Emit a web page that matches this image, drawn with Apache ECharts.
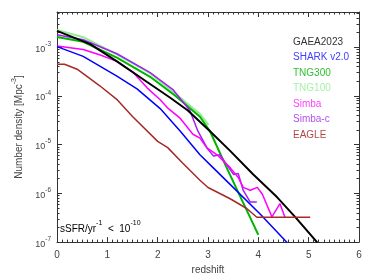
<!DOCTYPE html>
<html><head><meta charset="utf-8">
<script src="https://cdn.jsdelivr.net/npm/echarts@6/dist/echarts.min.js"></script>
<style>html,body{margin:0;padding:0;background:#fff}#c{width:374px;height:280px}</style>
</head><body><div id="c"></div>
<script>
// ---- data ----
const seriesNames = ['GAEA2023', 'SHARK v2.0', 'TNG300', 'TNG100', 'Simba', 'Simba-c', 'EAGLE'];
const seriesColors = ['#000000', '#0000ff', '#00b400', '#90ee90', '#ff00ff', '#a020f0', '#a52a2a'];
const legendColors = ['#333333', '#4040ff', '#33c033', '#a8f0a8', '#ff40ff', '#b050f0', '#b04848'];

const gaeaZ = [0, 0.66, 1.19, 1.79, 2.25, 2.60, 3.04, 3.44, 3.90, 4.37, 4.73, 5.17];
const gaeaN = [2.17e-3, 1.16e-3, 5.14e-4, 1.94e-4, 9.2e-5, 5.02e-5, 1.89e-5, 7.46e-6, 2.44e-6, 8.4e-7, 3.3e-7, 9.86e-8];

const sharkZ = [0, 0.52, 1.19, 1.59, 2.05, 2.45, 2.84, 3.10, 3.50, 4.04, 4.57];
const sharkN = [1.03e-3, 6.49e-4, 2.56e-4, 1.40e-4, 5.51e-5, 1.89e-5, 6.19e-6, 3.38e-6, 1.33e-6, 3.72e-7, 9.86e-8];

const tng300Z = [0, 0.52, 1.19, 1.85, 2.35, 2.84, 3.04, 3.37, 4.00];
const tng300N = [1.62e-3, 1.30e-3, 6.11e-4, 2.48e-4, 1.01e-4, 3.75e-5, 1.89e-5, 3.38e-6, 1.41e-7];

const tng100Z = [0, 0.52, 1.19, 1.85, 2.45, 2.84, 3.01];
const tng100N = [2.28e-3, 1.61e-3, 7.13e-4, 2.94e-4, 9.2e-5, 4.27e-5, 2.54e-5];

const simbaZ = [0, 0.52, 0.86, 1.19, 1.51, 1.79, 2.05, 2.19, 2.45, 2.70, 2.84, 2.98, 3.18, 3.44, 3.60, 3.70, 3.84, 3.98, 4.08, 4.27, 4.43, 4.53];
const simbaN = [1.06e-3, 8.99e-4, 6.95e-4, 5.14e-4, 3.08e-4, 1.47e-4, 8.38e-5, 5.78e-5, 3.46e-5, 1.64e-5, 1.36e-5, 8.57e-6, 6.19e-6, 3.38e-6, 2.12e-6, 1.33e-6, 1.16e-6, 1.33e-6, 9.6e-7, 3.3e-7, 6.14e-7, 3.2e-7];

const simbacZ = [0, 0.52, 1.19, 1.85, 2.31, 2.64, 2.80, 2.98, 3.11, 3.24, 3.37, 3.51, 3.60, 3.70, 3.84, 3.97];
const simbacN = [1.81e-3, 1.43e-3, 7.36e-4, 3.01e-4, 1.33e-4, 5.02e-5, 1.89e-5, 8.57e-6, 5.83e-6, 6.19e-6, 3.89e-6, 2.44e-6, 2.57e-6, 1.15e-6, 6.64e-7, 6.64e-7];

const eagleZ = [0, 0.15, 0.40, 0.85, 1.20, 1.50, 2.00, 2.20, 2.50, 2.84, 3.00, 3.44, 3.77, 3.97, 5.03];
const eagleN = [4.47e-4, 4.47e-4, 3.55e-4, 1.62e-4, 8.3e-5, 3.8e-5, 1.17e-5, 8.7e-6, 4.17e-6, 1.86e-6, 1.32e-6, 7.76e-7, 4.9e-7, 3.24e-7, 3.24e-7];

const xTickLabels = [0, 1, 2, 3, 4, 5, 6];
const yMajorTicks = [1e-7, 1e-6, 1e-5, 1e-4, 1e-3];
const yMin = 1e-7, yMax = 5.3e-3;
const yMinorTicks = [];
for (let e = -7; e <= -3; e++) for (let m = 2; m <= 9; m++) { const v = m * Math.pow(10, e); if (v < yMax) yMinorTicks.push(v); }

// ---- chart ----
const FONT = 'Liberation Sans';
const AX = '#333';
const TXT = '#444';
const zs = [gaeaZ, sharkZ, tng300Z, tng100Z, simbaZ, simbacZ, eagleZ];
const ns = [gaeaN, sharkN, tng300N, tng100N, simbaN, simbacN, eagleN];
const widths = [2, 1.5, 2, 2, 1.5, 1.5, 1.5];
const order = [3, 2, 5, 4, 0, 1, 6];

function richSet(base, supSize, color) {
  return {
    b: { fontSize: base, lineHeight: base + 4, fontFamily: FONT, color: color, verticalAlign: 'bottom' },
    s: { fontSize: supSize, lineHeight: supSize, fontFamily: FONT, color: color, verticalAlign: 'top' }
  };
}

function xAx(pos, labels) {
  return {
    type: 'value', position: pos, min: 0, max: 6, interval: 1,
    axisLine: { show: true, onZero: false, lineStyle: { color: AX, width: 1 } },
    axisTick: { show: true, inside: true, length: 5, lineStyle: { color: AX } },
    minorTick: { show: true, splitNumber: 10, length: 2.5, lineStyle: { color: AX } },
    axisLabel: { show: labels, color: TXT, fontSize: 10, fontFamily: FONT, margin: 8,
                 formatter: v => xTickLabels.indexOf(v) >= 0 ? String(v) : '' },
    splitLine: { show: false }, minorSplitLine: { show: false },
    name: labels ? 'redshift' : '', nameLocation: 'middle', nameGap: 21,
    nameTextStyle: { color: TXT, fontSize: 10, fontFamily: FONT }
  };
}
function yAx(pos, major, labels) {
  const ticks = major ? yMajorTicks : yMinorTicks;
  return {
    type: 'log', logBase: 10, position: pos, min: yMin, max: yMax,
    axisLine: { show: major, onZero: false, lineStyle: { color: AX, width: 1 } },
    axisTick: { show: true, inside: true, length: major ? 5 : 2.5, customValues: ticks, lineStyle: { color: AX } },
    axisLabel: { show: labels, customValues: yMajorTicks, margin: 6,
                 formatter: v => '{b|10}{s|' + Math.round(Math.log10(v)) + '}',
                 rich: richSet(9, 6.5, TXT) },
    splitLine: { show: false },
    name: labels ? '{b|Number density [Mpc}{s|-3}{b|]}' : '', nameLocation: 'middle', nameGap: 32,
    nameTextStyle: { rich: richSet(10, 7, TXT) }
  };
}

const series = order.map(i => ({
  name: seriesNames[i], type: 'line', xAxisIndex: 0, yAxisIndex: 0,
  data: zs[i].map((z, k) => [z, ns[i][k]]),
  showSymbol: false, symbol: 'none', smooth: false, clip: true,
  lineStyle: { color: seriesColors[i], width: widths[i] },
  itemStyle: { color: seriesColors[i] }, z: 2
}));

const chart = echarts.init(document.getElementById('c'), null, { renderer: 'canvas' });
chart.setOption({
  animation: false,
  backgroundColor: '#fff',
  grid: { left: 57, right: 15, top: 12, bottom: 34.5, containLabel: false },
  xAxis: [xAx('bottom', true), xAx('top', false)],
  yAxis: [yAx('left', true, true), yAx('left', false, false), yAx('right', true, false), yAx('right', false, false)],
  legend: {
    orient: 'vertical', left: 283, top: 32, icon: 'none', itemWidth: 0, itemHeight: 10, itemGap: 5.5,
    selectedMode: false, textStyle: { fontSize: 10, fontFamily: FONT },
    data: seriesNames.map((n, i) => ({ name: n, textStyle: { color: legendColors[i] } }))
  },
  graphic: [{
    type: 'text', left: 60, top: 220,
    style: { text: '{b|sSFR/yr}{s|-1}{b|  <  10}{s|-10}', rich: richSet(10, 7, TXT) }
  }],
  series: series
});
</script>
</body></html>
